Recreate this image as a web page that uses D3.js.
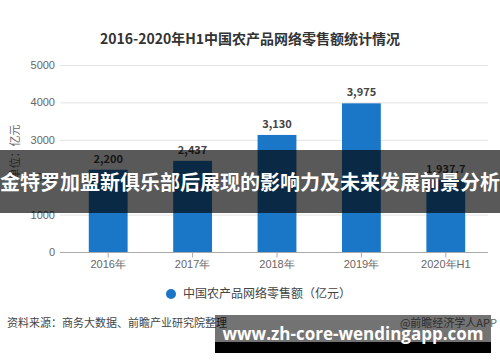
<!DOCTYPE html>
<html>
  <head>
    <meta charset="utf-8">
    <title>2016-2020年H1中国农产品网络零售额统计情况</title>
    <script src="https://cdn.jsdelivr.net/npm/d3@7"></script>
    <style>
      body { margin: 0; background: #fff; }
      svg { display: block; font-family: "Noto Sans CJK SC", "Noto Sans", sans-serif; }
      .title { font-size: 14px; font-weight: bold; fill: #333; text-anchor: middle; }
      .axis text { fill: #666; font-size: 11px; }
      .y.axis path, .y.axis line { stroke: none; }
      .grid line { stroke: #e3e3e3; }
      .x.axis path, .x.axis line { stroke: #aaa; }
      .value { font-size: 11px; font-weight: bold; fill: #444; text-anchor: middle; }
      .legend { font-size: 12px; fill: #444; }
      .source { font-size: 11px; fill: #444; }
      .banner { font-size: 20px; font-weight: bold; fill: #fff; text-anchor: middle; }
      .url { font-size: 17px; font-weight: bold; fill: #fff; font-family: "Open Sans", "DejaVu Sans", sans-serif; }
    </style>
  </head>
  <body>
    <script>

      var years = ["2016年", "2017年", "2018年", "2019年", "2020年H1"];
      var sales = [2200, 2437, 3130, 3975, 1937.7];
      var valueLabels = ["2,200", "2,437", "3,130", "3,975", "1,937.7"];
      var yTicks = [0, 1000, 2000, 3000, 4000, 5000];

      var outerWidth = 500;
      var outerHeight = 362;

      var svg = d3.select("body").append("svg")
        .attr("width", outerWidth)
        .attr("height", outerHeight);

      svg.append("text")
        .attr("class", "title")
        .attr("x", 250)
        .attr("y", 44)
        .text("2016-2020年H1中国农产品网络零售额统计情况");

      var xScale = d3.scaleBand()
        .domain(years)
        .range([66, 488])
        .paddingInner(0.54)
        .paddingOuter(0.27);

      var yScale = d3.scaleLinear()
        .domain([0, 5000])
        .range([252, 65]);

      // grid
      svg.append("g")
        .attr("class", "grid")
        .selectAll("line")
        .data(yTicks.slice(1))
        .enter().append("line")
        .attr("x1", 60)
        .attr("x2", 488)
        .attr("y1", function(d) { return yScale(d) + 0.5; })
        .attr("y2", function(d) { return yScale(d) + 0.5; });

      var yAxis = d3.axisLeft(yScale).tickValues(yTicks).tickFormat(d3.format("d"))
        .tickSize(0).tickPadding(5);
      svg.append("g")
        .attr("class", "y axis")
        .attr("transform", "translate(60,0)")
        .call(yAxis);

      svg.append("text")
        .attr("transform", "translate(19,152) rotate(-90)")
        .attr("text-anchor", "middle")
        .style("fill", "#666")
        .style("font-size", "11px")
        .text("单位：亿元");

      // bars
      svg.append("g").selectAll("rect")
        .data(sales)
        .enter().append("rect")
        .attr("x", function(d, i) { return xScale(years[i]); })
        .attr("width", xScale.bandwidth())
        .attr("y", function(d) { return yScale(d); })
        .attr("height", function(d) { return yScale(0) - yScale(d); })
        .attr("fill", "#1a76c6");

      svg.append("g").selectAll("text")
        .data(sales)
        .enter().append("text")
        .attr("class", "value")
        .attr("x", function(d, i) { return xScale(years[i]) + xScale.bandwidth() / 2; })
        .attr("y", function(d) { return yScale(d) - 7; })
        .text(function(d, i) { return valueLabels[i]; });

      // x axis
      svg.append("g").attr("class", "x axis")
        .append("line")
        .attr("x1", 60).attr("x2", 488)
        .attr("y1", yScale(0) + 0.5).attr("y2", yScale(0) + 0.5);
      var xAxis = d3.axisBottom(xScale).tickSize(5).tickPadding(3).tickSizeOuter(0);
      svg.append("g")
        .attr("class", "x axis")
        .attr("transform", "translate(0," + (yScale(0) + 0.5) + ")")
        .call(xAxis)
        .select(".domain").remove();

      // legend
      svg.append("circle")
        .attr("cx", 171).attr("cy", 294).attr("r", 5)
        .attr("fill", "#1a76c6");
      svg.append("text")
        .attr("class", "legend")
        .attr("x", 183)
        .attr("y", 298)
        .text("中国农产品网络零售额（亿元）");

      // footer
      svg.append("text")
        .attr("class", "source")
        .attr("x", 7)
        .attr("y", 327)
        .text("资料来源：商务大数据、前瞻产业研究院整理");
      svg.append("text")
        .attr("class", "source")
        .attr("x", 497)
        .attr("y", 327)
        .attr("text-anchor", "end")
        .style("fill", "#666")
        .text("@前瞻经济学人APP");

      // overlay banner
      svg.append("rect")
        .attr("x", 0).attr("y", 150)
        .attr("width", outerWidth).attr("height", 63)
        .attr("fill", "#000").attr("fill-opacity", 0.65);
      svg.append("text")
        .attr("class", "banner")
        .attr("x", 250)
        .attr("y", 190)
        .text("金特罗加盟新俱乐部后展现的影响力及未来发展前景分析");

      // url box
      svg.append("rect")
        .attr("x", 215).attr("y", 315)
        .attr("width", 276).attr("height", 27)
        .attr("fill", "#000").attr("fill-opacity", 0.55);
      svg.append("rect")
        .attr("x", 215).attr("y", 342)
        .attr("width", 276).attr("height", 11)
        .attr("fill", "#000");
      svg.append("text")
        .attr("class", "url")
        .attr("x", 353)
        .attr("y", 340)
        .attr("text-anchor", "middle")
        .text("www.zh-core-wendingapp.com");

    </script>
  </body>
</html>
